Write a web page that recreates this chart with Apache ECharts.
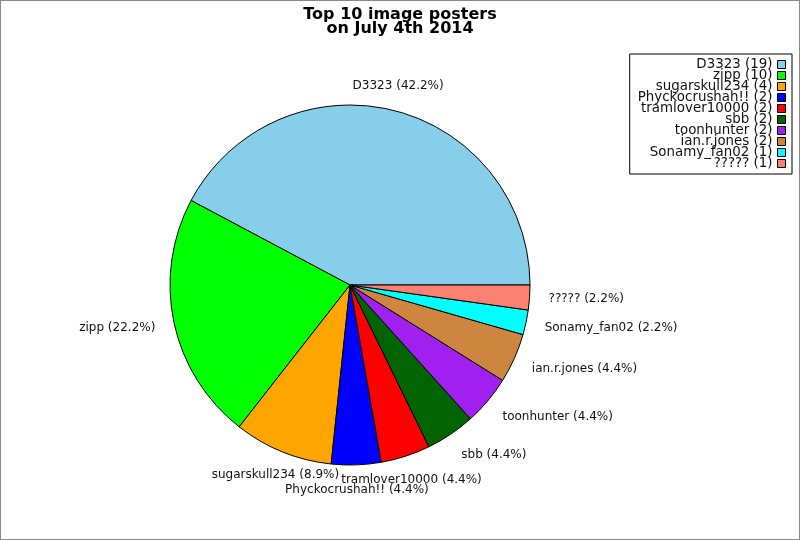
<!DOCTYPE html>
<html>
<head>
<meta charset="utf-8">
<title>Top 10 image posters</title>
<script src="https://cdn.jsdelivr.net/npm/echarts@6/dist/echarts.min.js"></script>
<style>
    html, body { margin: 0; padding: 0; background: #fff; }
    #wrap { position: relative; width: 800px; height: 540px; }
    #chart { width: 800px; height: 540px; }
    #frame {
        position: absolute; left: 0; top: 0; width: 800px; height: 540px;
        box-sizing: border-box; border: 1px solid #888; pointer-events: none;
    }
</style>
</head>
<body>
<div id="wrap">
    <div id="chart"></div>
    <div id="frame"></div>
</div>
<script>
    // 数据
    const posters = ['D3323', 'zipp', 'sugarskull234', 'Phyckocrushah!!', 'tramlover10000',
        'sbb', 'toonhunter', 'ian.r.jones', 'Sonamy_fan02', '?????'];
    const imageCounts = [19, 10, 4, 2, 2, 2, 2, 2, 1, 1];
    const sliceColors = ['#87CEEB', '#00FF00', '#FFA500', '#0000FF', '#FF0000',
        '#006400', '#A020F0', '#CD853F', '#00FFFF', '#FA8072'];

    const pieCenter = [350, 285];
    const pieRadius = 180;
    const labelGap = 19;
    const labelHalfHeight = 6;

    // 每个扇区的中间角度 (从 3 点钟方向逆时针)
    const total = imageCounts.reduce((a, b) => a + b, 0);
    let acc = 0;
    const midAngles = imageCounts.map((v) => {
        const mid = (acc + v / 2) / total * Math.PI * 2;
        acc += v;
        return mid;
    });

    const myChart = echarts.init(document.getElementById('chart'));

    const option = {
        animation: false,
        title: {
            text: 'Top 10 image posters\non July 4th 2014',
            left: 'center',
            top: 3,
            textStyle: {
                fontFamily: 'DejaVu Sans',
                fontSize: 16,
                fontWeight: 'bold',
                color: '#000',
                lineHeight: 14,
            },
        },
        legend: {
            orient: 'vertical',
            right: 8,
            top: 54,
            align: 'right',
            icon: 'rect',
            itemWidth: 8,
            itemHeight: 8,
            itemGap: -2,
            padding: [4, 6, 4, 8],
            borderColor: '#000',
            borderWidth: 1,
            backgroundColor: '#fff',
            selectedMode: false,
            itemStyle: { borderColor: '#000', borderWidth: 1 },
            textStyle: {
                fontFamily: 'DejaVu Sans',
                fontSize: 13.4,
                color: '#111',
                width: 136,
                align: 'right',
            },
            formatter: (name) => name + ' (' + imageCounts[posters.indexOf(name)] + ')',
        },
        series: [
            {
                type: 'pie',
                center: pieCenter,
                radius: pieRadius,
                startAngle: 0,
                clockwise: false,
                avoidLabelOverlap: false,
                silent: true,
                itemStyle: { borderColor: '#000', borderWidth: 1 },
                label: {
                    show: true,
                    position: 'outside',
                    formatter: (p) => p.name + ' (' + (p.value / total * 100).toFixed(1) + '%)',
                    fontFamily: 'DejaVu Sans',
                    fontSize: 12,
                    color: '#111',
                },
                labelLine: { show: false },
                // 标签位置: 两侧靠左/右对齐, 上下居中对齐, 竖直方向随角度偏移
                labelLayout: (params) => {
                    const a = midAngles[params.dataIndex];
                    const c = Math.cos(a);
                    const s = Math.sin(a);
                    const r = pieRadius + labelGap;
                    const x = pieCenter[0] + r * c;
                    const y = pieCenter[1] - r * s - s * labelHalfHeight;
                    let align = 'center';
                    if (Math.abs(c) > 0.5) {
                        align = c > 0 ? 'left' : 'right';
                    }
                    return { x, y, align, verticalAlign: 'middle' };
                },
                data: posters.map((name, i) => ({
                    name,
                    value: imageCounts[i],
                    itemStyle: { color: sliceColors[i] },
                })),
            },
        ],
    };

    myChart.setOption(option);
</script>
</body>
</html>
